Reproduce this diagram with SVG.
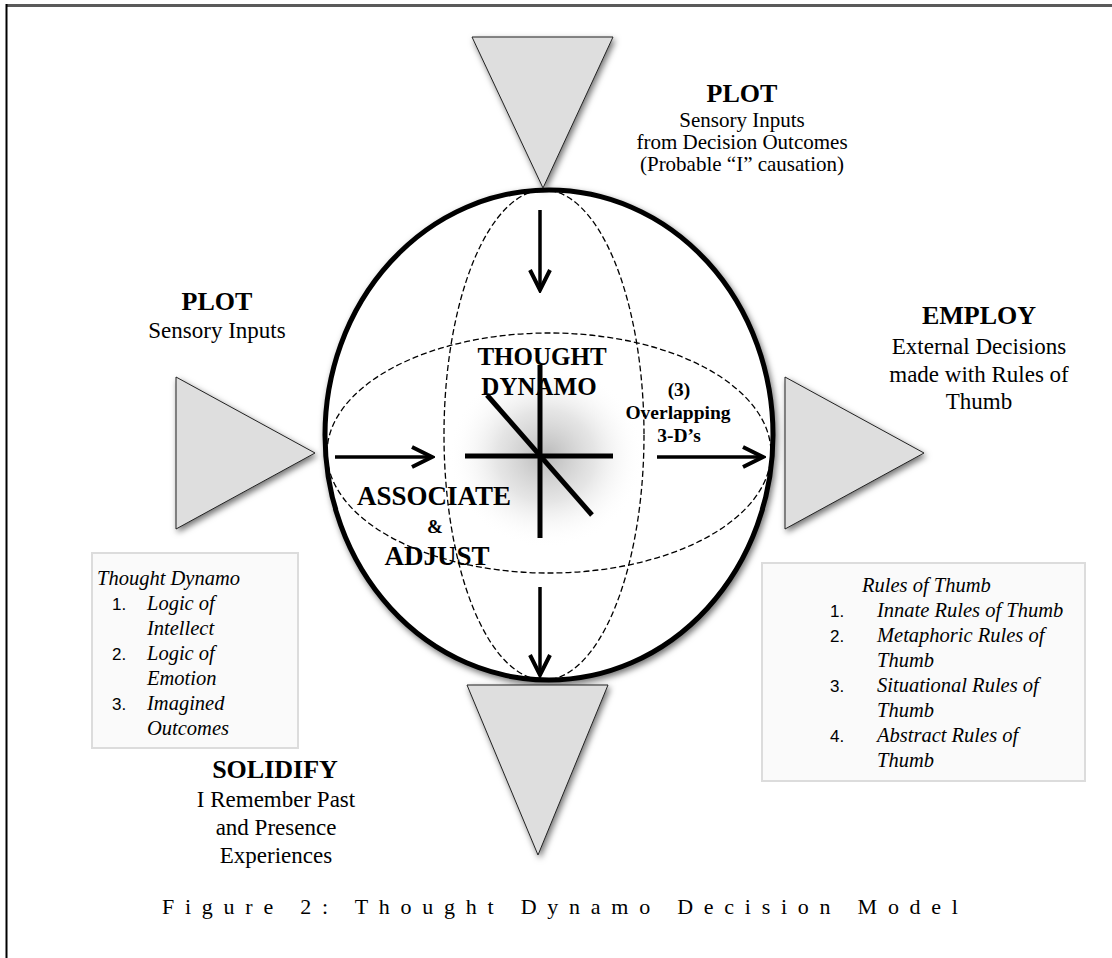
<svg xmlns="http://www.w3.org/2000/svg" width="1112" height="958" viewBox="0 0 1112 958">
  <defs>
    <filter id="shadow" x="-20%" y="-20%" width="140%" height="140%">
      <feDropShadow dx="2" dy="3" stdDeviation="3" flood-color="#000" flood-opacity="0.55"/>
    </filter>
    <radialGradient id="glow" cx="0.5" cy="0.5" r="0.5">
      <stop offset="0" stop-color="#a8a8a8" stop-opacity="0.8"/>
      <stop offset="0.5" stop-color="#d0d0d0" stop-opacity="0.55"/>
      <stop offset="1" stop-color="#ffffff" stop-opacity="0"/>
    </radialGradient>
    <marker id="chev" viewBox="0 0 26 26" refX="23" refY="13" markerWidth="26" markerHeight="26" markerUnits="userSpaceOnUse" orient="auto">
      <path d="M3,3 L23,13 L3,23" fill="none" stroke="#000" stroke-width="4"/>
    </marker>
    <style>
      .tri { fill: #dedede; stroke: #222; stroke-width: 1; filter: url(#shadow); }
      .dash { fill: none; stroke: #000; stroke-width: 1.3; stroke-dasharray: 6 3; }
      .bar { stroke: #000; stroke-width: 5; }
      .arrow { stroke: #000; stroke-width: 3.5; fill: none; marker-end: url(#chev); }
      .head { font-family: "Liberation Serif", serif; font-weight: bold; font-size: 26px; fill: #000; text-anchor: middle; }
      .body { font-family: "Liberation Serif", serif; font-size: 23px; fill: #000; text-anchor: middle; }
      .small { font-size: 21px; }
      .inner { font-family: "Liberation Serif", serif; font-weight: bold; fill: #000; text-anchor: middle; }
      .it { font-family: "Liberation Serif", serif; font-style: italic; font-size: 20.5px; fill: #000; }
      .num { font-family: "Liberation Sans", sans-serif; font-size: 17px; fill: #000; }
      .box { fill: #fafafa; stroke: #dcdcdc; stroke-width: 2; }
    </style>
  </defs>

  <rect width="1112" height="958" fill="#fff"/>
  <!-- page frame -->
  <line x1="6" y1="5.5" x2="1112" y2="5.5" stroke="#5a5a5a" stroke-width="3"/>
  <line x1="6.5" y1="4" x2="6.5" y2="958" stroke="#000" stroke-width="2"/>

  <!-- central sphere -->
  <g id="dynamo">
    <ellipse cx="549" cy="435" rx="224" ry="245" fill="#fff" stroke="#000" stroke-width="5" filter="url(#shadow)"/>
    <ellipse cx="546" cy="456" rx="98" ry="92" fill="url(#glow)"/>
    <ellipse class="dash" cx="549" cy="453" rx="222" ry="120"/>
    <ellipse class="dash" cx="544" cy="435" rx="100" ry="245"/>
    <line class="bar" x1="465" y1="456" x2="613" y2="456"/>
    <line class="bar" x1="540" y1="365" x2="540" y2="538"/>
    <line class="bar" x1="487" y1="395" x2="592" y2="515"/>
    <text class="inner" x="542" y="365" font-size="25">THOUGHT</text>
    <text class="inner" x="539" y="395" font-size="25">DYNAMO</text>
    <text class="inner" x="679" y="396" font-size="19.5">(3)</text>
    <text class="inner" x="678" y="419" font-size="19.5">Overlapping</text>
    <text class="inner" x="679" y="442" font-size="19.5">3-D’s</text>
    <text class="inner" x="434" y="505" font-size="27">ASSOCIATE</text>
    <text class="inner" x="435" y="533" font-size="19">&amp;</text>
    <text class="inner" x="437" y="565" font-size="27">ADJUST</text>
  </g>

  <!-- top input -->
  <g id="plot-top">
    <polygon class="tri" points="472,37 613,37 543,188"/>
    <text class="head" x="742" y="102">PLOT</text>
    <text class="body small" x="742" y="127">Sensory Inputs</text>
    <text class="body small" x="742" y="149">from Decision Outcomes</text>
    <text class="body small" x="742" y="171">(Probable “I” causation)</text>
  </g>

  <!-- left input -->
  <g id="plot-left">
    <polygon class="tri" points="176,377 176,529 315,453"/>
    <text class="head" x="217" y="310">PLOT</text>
    <text class="body" x="217" y="338">Sensory Inputs</text>
  </g>

  <!-- right output -->
  <g id="employ">
    <polygon class="tri" points="785,377 785,529 924,453"/>
    <text class="head" x="979" y="324">EMPLOY</text>
    <text class="body" x="979" y="354">External Decisions</text>
    <text class="body" x="979" y="382">made with Rules of</text>
    <text class="body" x="979" y="409">Thumb</text>
  </g>

  <!-- bottom output -->
  <g id="solidify">
    <polygon class="tri" points="467,685 608,685 538,855"/>
    <text class="head" x="275" y="778">SOLIDIFY</text>
    <text class="body" x="276" y="807">I Remember Past</text>
    <text class="body" x="276" y="835">and Presence</text>
    <text class="body" x="276" y="863">Experiences</text>
  </g>

  <!-- thought dynamo list -->
  <g id="dynamo-list">
    <rect class="box" x="92" y="553" width="206" height="195"/>
    <text class="it" x="240" y="585" text-anchor="end">Thought Dynamo</text>
    <text class="num" x="112" y="610">1.</text>
    <text class="it" x="147" y="610">Logic of</text>
    <text class="it" x="147" y="635">Intellect</text>
    <text class="num" x="112" y="660">2.</text>
    <text class="it" x="147" y="660">Logic of</text>
    <text class="it" x="147" y="685">Emotion</text>
    <text class="num" x="112" y="710">3.</text>
    <text class="it" x="147" y="710">Imagined</text>
    <text class="it" x="147" y="735">Outcomes</text>
  </g>

  <!-- rules of thumb list -->
  <g id="rules-list">
    <rect class="box" x="762" y="563" width="323" height="218"/>
    <text class="it" x="862" y="592">Rules of Thumb</text>
    <text class="num" x="830" y="617">1.</text>
    <text class="it" x="877" y="617">Innate Rules of Thumb</text>
    <text class="num" x="830" y="642">2.</text>
    <text class="it" x="877" y="642">Metaphoric Rules of</text>
    <text class="it" x="877" y="667">Thumb</text>
    <text class="num" x="830" y="692">3.</text>
    <text class="it" x="877" y="692">Situational Rules of</text>
    <text class="it" x="877" y="717">Thumb</text>
    <text class="num" x="830" y="742">4.</text>
    <text class="it" x="877" y="742">Abstract Rules of</text>
    <text class="it" x="877" y="767">Thumb</text>
  </g>

  <!-- flow arrows -->
  <g id="connectors">
    <line class="arrow" x1="540" y1="210" x2="540" y2="290"/>
    <line class="arrow" x1="335" y1="457" x2="432" y2="457"/>
    <line class="arrow" x1="657" y1="457" x2="763" y2="457"/>
    <line class="arrow" x1="540" y1="587" x2="540" y2="675"/>
  </g>

  <text x="162" y="914" textLength="796" lengthAdjust="spacing" font-family="Liberation Serif, serif" font-size="22" fill="#000">Figure 2: Thought Dynamo Decision Model</text>
</svg>
